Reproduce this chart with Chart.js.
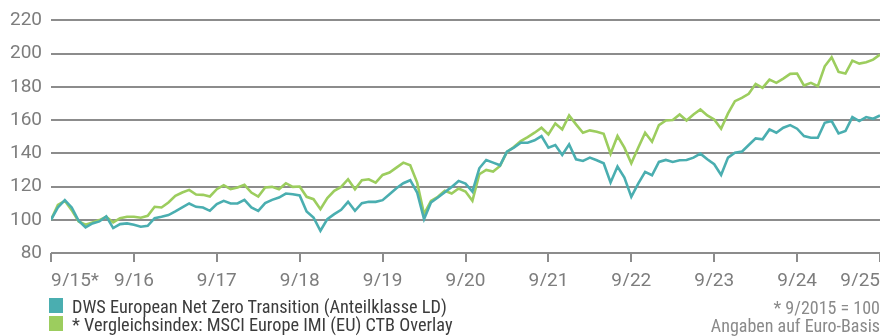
<!DOCTYPE html>
<html lang="de">
<head>
<meta charset="utf-8">
<script src="https://cdn.jsdelivr.net/npm/chart.js@4/dist/chart.umd.min.js"></script>
<style>
  html, body { margin: 0; padding: 0; background: #fff; }
  #wrap { position: relative; width: 880px; height: 336px; }
  #graph { position: absolute; left: 0; top: 0; }
  .leg { position: absolute; font-family: "Liberation Sans Narrow", "Roboto Condensed", "Liberation Sans", sans-serif; font-size: 18.3px; color: #3c3c3c; white-space: nowrap; }
  .leg i { position: absolute; left: 0; top: 2px; width: 14px; height: 15px; }
  .leg span { position: absolute; left: 23px; top: 0; }
  .note { position: absolute; right: 0; font-family: "Liberation Sans Narrow", "Roboto Condensed", "Liberation Sans", sans-serif; font-size: 18px; color: #8a8a8a; white-space: nowrap; }
</style>
</head>
<body>
<div id="wrap">
  <canvas id="graph" width="880" height="336"></canvas>
  <div class="leg" style="left:49px; top:296px;"><i style="background:#4aaeb0"></i><span>DWS European Net Zero Transition (Anteilklasse LD)</span></div>
  <div class="leg" style="left:49px; top:314px;"><i style="background:#9ccd5e"></i><span>* Vergleichsindex: MSCI Europe IMI (EU) CTB Overlay</span></div>
  <div class="note" style="top:297px;">* 9/2015 = 100</div>
  <div class="note" style="top:315px;">Angaben auf Euro-Basis</div>
</div>
<script>
// Monatswerte, indexiert (9/2015 = 100)
const fonds = [
  100, 107.4, 111.8, 107.4, 99.4, 95.4, 97.8, 99, 102, 95, 97.4, 97.8,
  97, 95.8, 96.4, 101, 101.8, 102.8, 105, 107.4, 109.8, 107.8, 107.4, 105.4,
  109.4, 111.4, 109.8, 109.8, 112, 107.4, 105.4, 110, 112, 113.4, 115.8, 115.4,
  114.6, 105, 101.4, 93.4, 100.4, 103.4, 106, 110.8, 105.4, 110, 110.8, 110.8,
  111.8, 115.4, 119, 122, 123.8, 116.4, 100.4, 110.4, 113.4, 116.6, 119.8, 123.4,
  121.8, 117, 131, 136, 134.4, 132.8, 141, 143.4, 146.4, 146.4, 147.8, 150.4,
  143.4, 145, 139, 145.4, 136.4, 135.4, 137.4, 135.8, 134, 122.4, 132, 125.4,
  113.8, 121.8, 128.8, 126.8, 134.8, 136, 134.8, 135.8, 136, 137.4, 139.8, 136.4,
  133.4, 127, 137.4, 140.4, 141, 145, 149, 148.4, 154.4, 152.4, 155.4, 157,
  154.8, 150.4, 149.4, 149.4, 158.4, 159.4, 152, 153.4, 161.8, 159.4, 161.8, 160.8,
  162.8
];
const vergleich = [
  100, 109, 111.4, 105.8, 99, 97, 98.4, 99.8, 101.8, 98.4, 101, 101.8,
  101.8, 101.2, 102.4, 107.8, 107.4, 110.4, 114.4, 116.4, 118, 115.2, 115, 114,
  118.4, 120.8, 118.4, 119.4, 121, 116.4, 114, 119.4, 119.8, 118.4, 122, 119.8,
  120, 113.8, 112.4, 106.4, 113, 117.4, 119.8, 124.4, 118.4, 123.8, 124.4, 122.4,
  127, 128.4, 131.4, 134.4, 132.8, 122.4, 103.4, 111.4, 113.8, 117.4, 115.8, 118.8,
  117, 111.4, 127.4, 130, 129, 132.4, 140.8, 143.8, 147.4, 149.8, 152.4, 155.4,
  151.4, 158, 154.4, 162.8, 157.4, 152.4, 153.8, 153, 151.8, 139.8, 150.4, 143.4,
  134, 143.4, 152.4, 147, 157, 159.8, 160, 163.4, 159.8, 163.4, 166.4, 162.8,
  160.4, 154.8, 164, 171.4, 173.4, 175.8, 181.8, 179.4, 184.4, 182.4, 185, 187.8,
  188, 180.8, 182.4, 180.4, 192.4, 197.8, 189, 188, 195.8, 194, 194.8, 196.4,
  199.4
];
// Beschriftung der x-Achse, jeweils September
const jahre = ['9/15*', '9/16', '9/17', '9/18', '9/19', '9/20', '9/21', '9/22', '9/23', '9/24', '9/25'];

const grau = '#8c8c8c';
const schrift = { family: 'Roboto, "Liberation Sans", sans-serif', size: 19 };

const ctx = document.getElementById('graph').getContext('2d');
new Chart(ctx, {
  type: 'line',
  data: {
    datasets: [
      {
        label: 'DWS European Net Zero Transition (Anteilklasse LD)',
        data: fonds.map((v, i) => ({ x: i, y: v })),
        borderColor: '#4aaeb0',
        borderWidth: 2.6,
        pointRadius: 0,
        tension: 0
      },
      {
        label: '* Vergleichsindex: MSCI Europe IMI (EU) CTB Overlay',
        data: vergleich.map((v, i) => ({ x: i, y: v })),
        borderColor: '#9ccd5e',
        borderWidth: 2.6,
        pointRadius: 0,
        tension: 0
      }
    ]
  },
  options: {
    responsive: false,
    animation: false,
    layout: { padding: { top: 19, right: 0, bottom: 50, left: 0 } },
    plugins: { legend: { display: false }, tooltip: { enabled: false } },
    scales: {
      x: {
        type: 'linear',
        min: 0,
        max: 120,
        // Achse bis an den rechten Rand ziehen
        afterFit: (s) => { s.height = 33; s.paddingLeft = 0; s.paddingRight = 0; },
        border: { display: false },
        grid: { drawOnChartArea: false, drawTicks: true, tickLength: 9, color: grau, lineWidth: 2 },
        ticks: {
          stepSize: 12,
          align: 'inner',
          padding: 8,
          color: '#7d7d7d',
          font: schrift,
          maxRotation: 0,
          autoSkip: false,
          callback: (v) => jahre[v / 12]
        }
      },
      y: {
        min: 80,
        max: 220,
        afterFit: (s) => { s.width = 51; },
        border: { display: false },
        grid: { drawTicks: false, color: grau, lineWidth: 2 },
        ticks: { stepSize: 20, padding: 9, color: '#7d7d7d', font: schrift }
      }
    }
  }
});
</script>
</body>
</html>
